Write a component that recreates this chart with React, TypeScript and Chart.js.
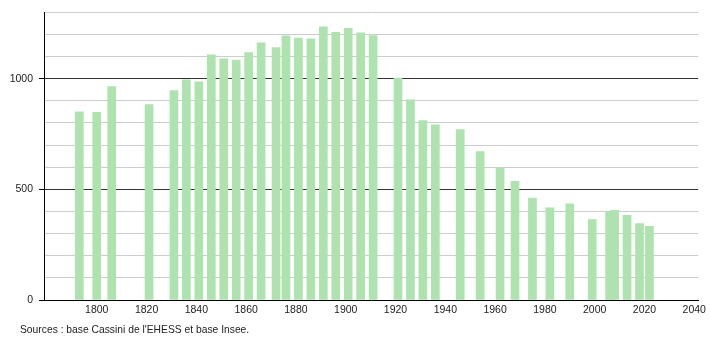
import React, { useEffect, useRef } from "react";
import { Chart, registerables } from "chart.js";

Chart.register(...registerables);

const years = [
  1793, 1800, 1806, 1821, 1831, 1836, 1841, 1846, 1851, 1856, 1861, 1866, 1872,
  1876, 1881, 1886, 1891, 1896, 1901, 1906, 1911, 1921, 1926, 1931, 1936, 1946,
  1954, 1962, 1968, 1975, 1982, 1990, 1999, 2006, 2008, 2013, 2018, 2022,
];
const population = [
  850, 848, 964, 883, 946, 995, 986, 1108, 1090, 1084, 1118, 1162, 1141, 1194,
  1183, 1180, 1234, 1210, 1228, 1207, 1195, 1003, 905, 811, 791, 770, 671, 596,
  536, 461, 417, 435, 363, 398, 405, 383, 345, 333,
];
const xTicks = [1800, 1820, 1840, 1860, 1880, 1900, 1920, 1940, 1960, 1980, 2000, 2020, 2040];
const yTicks = [0, 100, 200, 300, 400, 500, 600, 700, 800, 900, 1000, 1100, 1200, 1300];
const yLabelled = [0, 500, 1000];
const sourceText = "Sources : base Cassini de l'EHESS et base Insee.";

const FONT = "'Liberation Sans', Arial, sans-serif";

export default function App() {
  const ref = useRef<HTMLCanvasElement | null>(null);

  useEffect(() => {
    if (!ref.current) return;
    const chart = new Chart(ref.current, {
      type: "bar",
      data: {
        datasets: [
          {
            data: years.map((y, i) => ({ x: y, y: population[i] })),
            backgroundColor: "rgb(174,226,174)",
            borderWidth: 0,
            barThickness: 8,
          },
        ],
      },
      options: {
        animation: false,
        responsive: false,
        maintainAspectRatio: false,
        layout: { padding: { left: 0, right: 10, top: 9, bottom: 0 } },
        plugins: { legend: { display: false }, tooltip: { enabled: false } },
        scales: {
          x: {
            type: "linear",
            min: 1778.8,
            max: 2041.6,
            offset: false,
            afterFit: (s: any) => {
              s.height = 40;
            },
            afterBuildTicks: (s: any) => {
              s.ticks = xTicks.map((v) => ({ value: v }));
            },
            grid: { display: false, drawTicks: false },
            border: { display: true, color: "#000", width: 1 },
            ticks: {
              autoSkip: false,
              maxRotation: 0,
              padding: 4,
              color: "#222",
              font: { family: FONT, size: 10.5 },
              callback: (v: any) => String(v),
            },
          },
          y: {
            type: "linear",
            min: 0,
            max: 1300,
            afterFit: (s: any) => {
              s.width = 44;
            },
            afterBuildTicks: (s: any) => {
              s.ticks = yTicks.map((v) => ({ value: v }));
            },
            grid: {
              color: (ctx: any) => {
                const v = ctx.tick ? ctx.tick.value : 0;
                if (v === 0) return "rgba(0,0,0,0)";
                return yLabelled.includes(v) ? "#333" : "#cccccc";
              },
              tickColor: (ctx: any) => {
                const v = ctx.tick ? ctx.tick.value : 0;
                return yLabelled.includes(v) ? "#000" : "rgba(0,0,0,0)";
              },
              tickLength: 5,
              lineWidth: 1,
            },
            border: { display: true, color: "#000", width: 1 },
            ticks: {
              autoSkip: false,
              padding: 6,
              color: "#222",
              font: { family: FONT, size: 10.5 },
              callback: (v: any) => (yLabelled.includes(v) ? String(v) : ""),
            },
          },
        },
      },
    });
    return () => chart.destroy();
  }, []);

  return (
    <div style={{ position: "absolute", left: 0, top: 0, width: 710, height: 340, background: "#fff" }}>
      <canvas ref={ref} width={710} height={340} style={{ display: "block", width: 710, height: 340 }} />
      <div
        style={{
          position: "absolute",
          left: 20,
          top: 323,
          fontFamily: FONT,
          fontSize: 10.3,
          lineHeight: "13px",
          color: "#222",
          whiteSpace: "nowrap",
        }}
      >
        {sourceText}
      </div>
    </div>
  );
}
